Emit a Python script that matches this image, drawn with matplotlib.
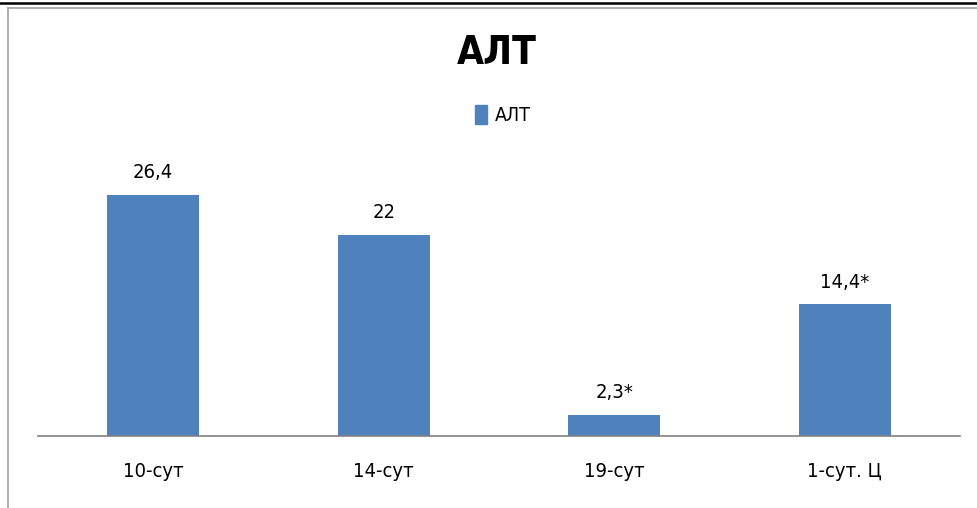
import matplotlib
matplotlib.use('Agg')
import matplotlib.pyplot as plt
from matplotlib.lines import Line2D
from matplotlib.patches import Patch

plt.rcParams['font.family'] = ['DejaVu Sans']
plt.rcParams['font.stretch'] = 'condensed'

categories = ['10-сут', '14-сут', '19-сут', '1-сут. Ц']
values = [26.4, 22, 2.3, 14.4]
labels = ['26,4', '22', '2,3*', '14,4*']

W, H = 978, 508
fig = plt.figure(figsize=(9.78, 5.08), dpi=100)
ax = fig.add_axes([38 / W, 1 - 436 / H, 922 / W, 274 / H])

x = range(len(categories))
bars = ax.bar(x, values, width=0.4, color='#4F81BD', zorder=2)
for b, lab in zip(bars, labels):
    ax.text(b.get_x() + b.get_width() / 2, b.get_height() + 1.4, lab,
            ha='center', va='bottom', fontsize=14.5)

ax.set_xlim(-0.5, len(categories) - 0.5)
ax.set_ylim(0, 30)
ax.set_xticks(list(x))
ax.set_xticklabels(categories, fontsize=14.5)
ax.tick_params(axis='x', length=0, pad=19)
ax.set_yticks([])
for s in ['top', 'right', 'left']:
    ax.spines[s].set_visible(False)
ax.spines['bottom'].set_color('#808080')
ax.spines['bottom'].set_linewidth(1.2)

fig.text(497 / W, 1 - 53 / H, 'АЛТ', ha='center', va='center',
         fontsize=28, fontweight='bold')

fig.legend(handles=[Patch(color='#4F81BD', label='АЛТ')], loc='center',
           bbox_to_anchor=(503 / W, 1 - 115 / H), frameon=False, fontsize=14,
           handlelength=0.65, handleheight=1.1, handletextpad=0.4)

# frame lines from the original screenshot
fig.add_artist(Line2D([0, 1], [1 - 2.5 / H, 1 - 2.5 / H], color='black', lw=1.8,
                      transform=fig.transFigure))
fig.add_artist(Line2D([8 / W, 1], [1 - 8 / H, 1 - 8 / H], color='#a0a0a0', lw=1.2,
                      transform=fig.transFigure))
fig.add_artist(Line2D([8 / W, 8 / W], [1 - 8 / H, 0], color='#a0a0a0', lw=1.2,
                      transform=fig.transFigure))

plt.savefig('out.png', dpi=100)
